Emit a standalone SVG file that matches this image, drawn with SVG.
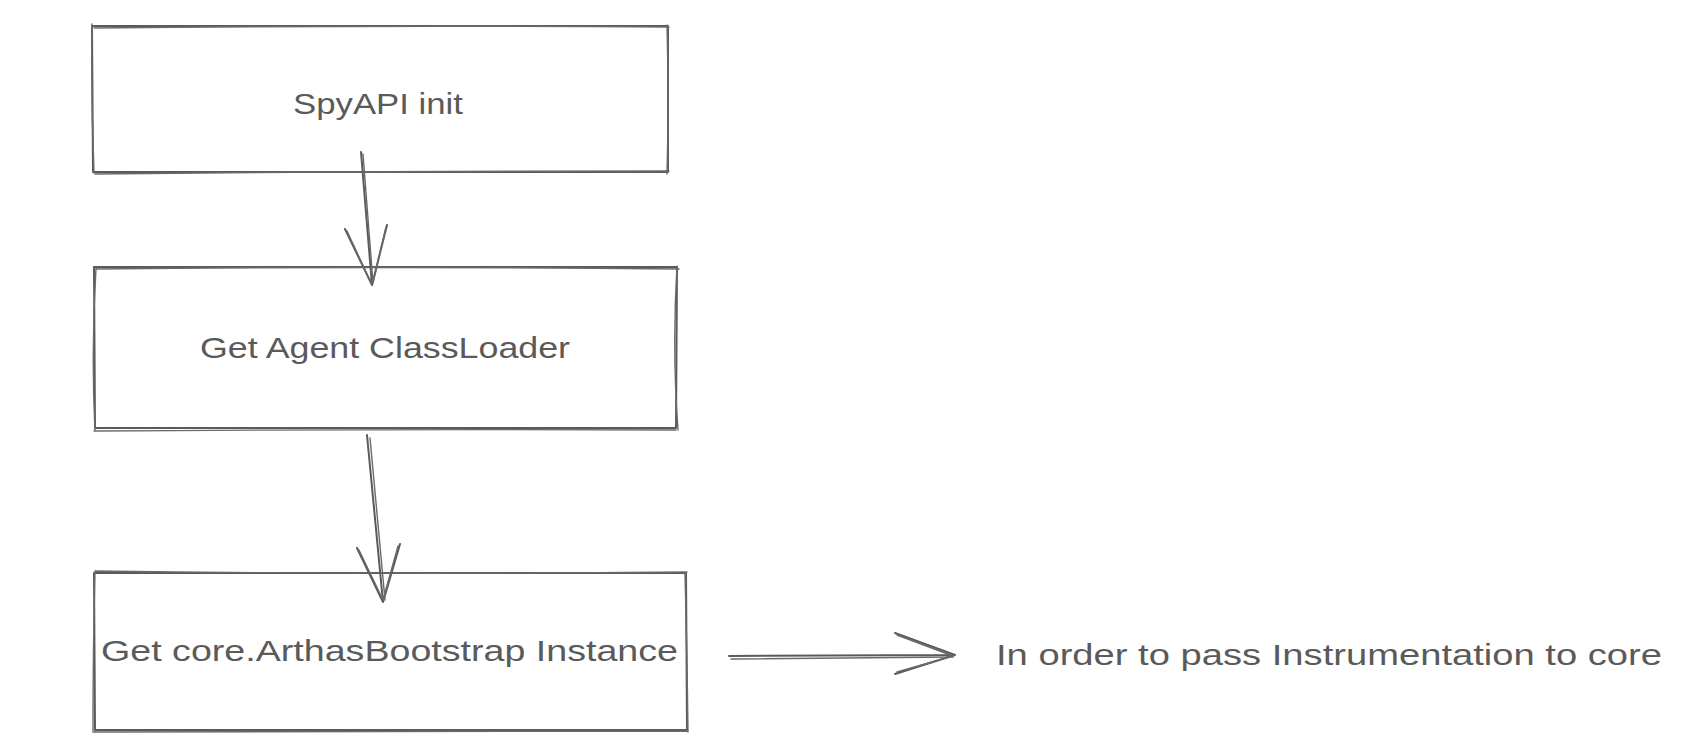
<svg xmlns="http://www.w3.org/2000/svg" width="1704" height="756" viewBox="0 0 1704 756">
  <style>
    .bg { fill: #ffffff; }
    .sk { fill: none; stroke: #5a5a5a; stroke-width: 2; stroke-linecap: round; stroke-linejoin: round; }
    .sk2 { fill: none; stroke: #6a6a6a; stroke-width: 1.4; stroke-linecap: round; stroke-linejoin: round; }
    .lbl { font-family: "Liberation Sans", "DejaVu Sans", sans-serif; font-size: 29px; fill: #5a5a5a; }
  </style>
  <rect class="bg" x="0" y="0" width="1704" height="756"/>

  <g id="node-spyapi-init">
    <path class="sk" d="M92 26 L668 26 L668 172 L93 172 Z"/>
    <path class="sk2" d="M94 28 Q380 25 669 27 M667 25 Q669 100 667 174 M95 174 Q380 171 669 171 M92 24 Q91 100 94 173"/>
    <text class="lbl" x="293" y="114" textLength="170" lengthAdjust="spacingAndGlyphs">SpyAPI init</text>
  </g>

  <g id="node-get-agent-classloader">
    <path class="sk" d="M94 267 L677 267 L676 428 L95 428 Z"/>
    <path class="sk2" d="M96 269 Q390 266 679 269 M677 266 Q672 350 678 430 M94 431 Q390 429 676 430 M96 268 Q91 350 95 430"/>
    <text class="lbl" x="200" y="358" textLength="370" lengthAdjust="spacingAndGlyphs">Get Agent ClassLoader</text>
  </g>

  <g id="node-get-bootstrap-instance">
    <path class="sk" d="M94 573 L686 573 L687 730 L95 730 Z"/>
    <path class="sk2" d="M95 571 Q390 575 687 572 M685 574 Q687 650 688 732 M93 732 Q390 731 688 731 M95 572 Q93 650 93 731"/>
    <text class="lbl" x="101" y="661" textLength="577" lengthAdjust="spacingAndGlyphs">Get core.ArthasBootstrap Instance</text>
  </g>

  <g id="note-instrumentation">
    <text class="lbl" x="996" y="665" textLength="666" lengthAdjust="spacingAndGlyphs">In order to pass Instrumentation to core</text>
  </g>

  <g id="connectors">
    <path class="sk" d="M361 152 L372 285 M345 229 L372 285 L387 225"/>
    <path class="sk2" d="M363 154 L373 283 M347 231 L371 283 M386 227 L373 283"/>
    <path class="sk" d="M367 435 L383 602 M357 548 L383 602 L400 544"/>
    <path class="sk2" d="M370 438 L385 600 M359 550 L383 600 L398 546"/>
    <path class="sk" d="M729 656 L955 655 M895 633 L955 655 L895 674"/>
    <path class="sk2" d="M731 659 L953 657 M897 635 L953 656 L897 672"/>
  </g>
</svg>
